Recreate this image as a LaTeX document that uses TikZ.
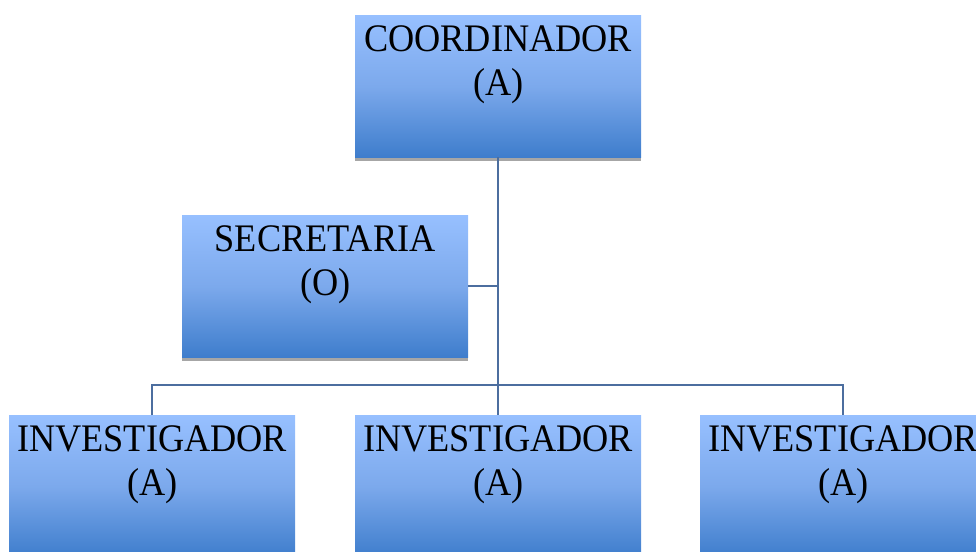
\documentclass[tikz,border=0pt]{standalone}
\usepackage{fontspec}
\newfontfamily\boxfont{Liberation Serif}[FakeStretch=0.93]
\usetikzlibrary{shadows}
\definecolor{boxtop}{HTML}{97C0FF}
\definecolor{boxmid}{HTML}{7CA9EC}
\definecolor{boxbot}{HTML}{3E7DCC}
\definecolor{linecol}{HTML}{4C6E9F}
\definecolor{shadowgray}{HTML}{A6A6A6}
\tikzset{
  orgbox/.style={rectangle, minimum width=286pt, minimum height=142pt, inner sep=0pt,
    top color=boxtop, bottom color=boxbot, middle color=boxmid, draw=none,
    drop shadow={shadow xshift=0pt, shadow yshift=-4pt, opacity=1, fill=shadowgray}},
  boxtext/.style={anchor=north, inner sep=0pt, align=center, yshift=-10pt,
    font=\boxfont\fontsize{39}{44}\selectfont, text=black},
  conn/.style={draw=linecol, line width=2pt}
}
\begin{document}
\begin{tikzpicture}[x=1pt,y=-1pt]
\useasboundingbox (0,0) rectangle (976,551);
\clip (0,0) rectangle (976,551);
\node[orgbox, anchor=north west] (coord) at (355,15) {};
\node[boxtext] (coordt) at (coord.north) {COORDINADOR\\(A)};
\node[orgbox, anchor=north west] (sec) at (182,215) {};
\node[boxtext] (sect) at (sec.north) {SECRETARIA\\(O)};
\node[orgbox, anchor=north west] (inv1) at (9,415) {};
\node[boxtext] (inv1t) at (inv1.north) {INVESTIGADOR\\(A)};
\node[orgbox, anchor=north west] (inv2) at (355,415) {};
\node[boxtext] (inv2t) at (inv2.north) {INVESTIGADOR\\(A)};
\node[orgbox, anchor=north west] (inv3) at (700,415) {};
\node[boxtext] (inv3t) at (inv3.north) {INVESTIGADOR\\(A)};
\coordinate (bus) at (498,385);
\draw[conn] (coord.south) -- (inv2.north);
\draw[conn] (sec.east) -- (sec.east -| coord.south);
\draw[conn] (inv1.north) |- (bus) -| (inv3.north);
\end{tikzpicture}
\end{document}
